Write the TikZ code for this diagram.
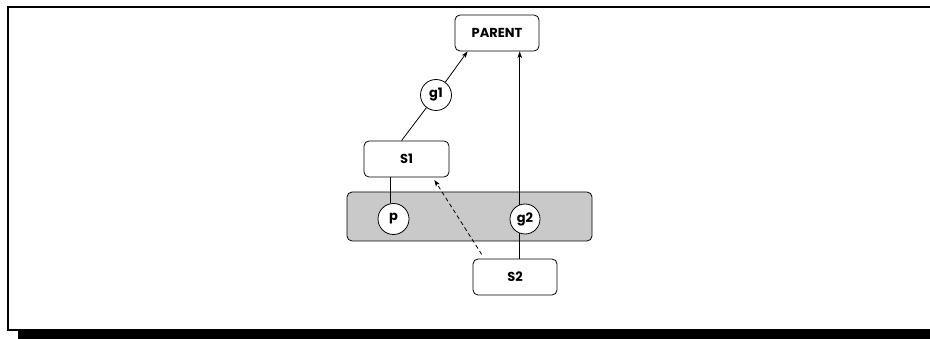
\documentclass[tikz,border=0pt]{standalone}
\usepackage{fontspec}
\setmainfont{Poppins}
\usetikzlibrary{arrows.meta}
\begin{document}
\begin{tikzpicture}[x=1pt,y=-1pt,
  every node/.style={font=\fontsize{13}{15}\selectfont\bfseries},
  box/.style={draw, line width=0.8pt, rounded corners=5pt, minimum width=84pt, minimum height=36pt, inner sep=0pt},
  port/.style={draw, line width=0.8pt, circle, fill=white, minimum size=31pt, inner sep=0pt},
  link/.style={line width=0.8pt},
  tip/.style={-{Stealth[length=6.5pt,width=4.5pt,inset=1.5pt]}}]
  \useasboundingbox (0,0) rectangle (930,339);
  \clip (0,0) rectangle (930,339);
  % framed panel with its drop shadow
  \fill[black] (18,330) rectangle (940,345);
  \draw[line width=1.6pt] (940,6.8) -- (7.8,6.8) -- (7.8,330) -- (940,330);
  % grey group band
  \node[draw, line width=0.8pt, fill=black!21, rounded corners=5pt, minimum width=245pt, minimum height=49pt, inner sep=0pt] (band) at (469.5,216.5) {};
  % nodes
  \node[box] (parent) at (497,33) {PARENT};
  \node[box, minimum width=85pt] (s1) at (406.5,159) {S1};
  \node[box] (s2) at (515,277) {S2};
  \node[port] (g1) at (436,95) {g1};
  \node[port] (p) at (393.5,219) {p};
  \node[port, minimum size=30pt] (g2) at (525,219) {g2};
  % connectors
  \draw[link] (s1.105) -- (g1);
  \draw[link, tip] (g1) -- (parent.212);
  \draw[link, tip] (g2.110) -- (g2.110 |- parent.south);
  \draw[link] (g2.250) -- (g2.250 |- s2.north);
  \draw[link] (p.100) -- (p.100 |- s1.south);
  \draw[link, tip, dashed, dash pattern=on 4pt off 3pt, shorten <=5pt, shorten >=3pt] (s2.149) -- (s1.325);
\end{tikzpicture}
\end{document}
